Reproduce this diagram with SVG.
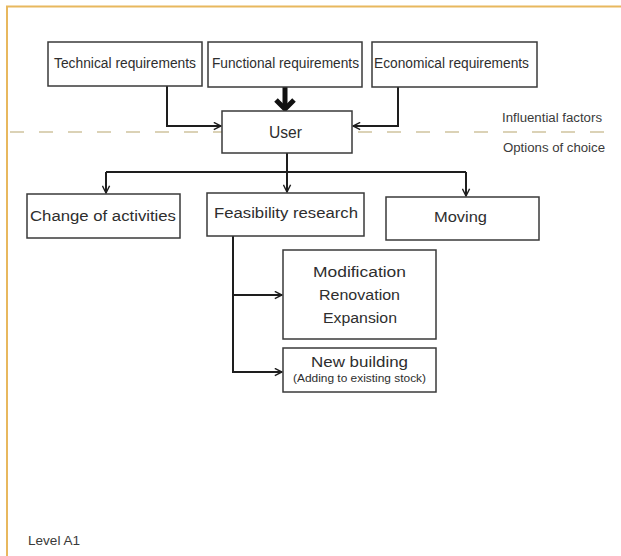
<svg xmlns="http://www.w3.org/2000/svg" width="621" height="556" viewBox="0 0 621 556">
  <defs>
    <style>
      .box { fill: #ffffff; stroke: #3a3a3a; stroke-width: 1.5; }
      .txt { font-family: "Liberation Sans", Arial, sans-serif; fill: #2e2e2e; }
      .lbl { font-size: 14px; }
      .big { font-size: 15.5px; }
      .side { font-size: 12px; fill: #3a3a3a; }
      .small { font-size: 10px; }
      .wire { fill: none; stroke: #1e1e1e; stroke-width: 2; }
    </style>
    <marker id="chev" viewBox="0 0 10 10" refX="9" refY="5" markerWidth="9" markerHeight="9" markerUnits="userSpaceOnUse" orient="auto">
      <path d="M1,1 L9,5 L1,9" fill="none" stroke="#1e1e1e" stroke-width="1.6"/>
    </marker>
  </defs>

  <rect x="0" y="0" width="621" height="556" fill="#ffffff"/>

  <!-- frame -->
  <path d="M7,556 V6.5 H621" fill="none" stroke="#e8b85e" stroke-width="2"/>

  <!-- separator between factors and choices -->
  <line x1="10" y1="132" x2="616" y2="132" stroke="#cfc39f" stroke-width="1.5" stroke-dasharray="14 15"/>

  <g id="connectors">
    <path class="wire" d="M167,86 V126 H221" marker-end="url(#chev)"/>
    <path class="wire" d="M398,87 V126 H353" marker-end="url(#chev)"/>
    <line x1="285" y1="87" x2="285" y2="108" stroke="#111" stroke-width="5"/>
    <polyline points="276,100 285,109 294,100" fill="none" stroke="#111" stroke-width="5" stroke-linejoin="miter"/>
    <path class="wire" d="M287,153 V172"/>
    <path class="wire" d="M106,172 H466"/>
    <path class="wire" d="M106,172 V193" marker-end="url(#chev)"/>
    <path class="wire" d="M287,172 V192" marker-end="url(#chev)"/>
    <path class="wire" d="M466,172 V196" marker-end="url(#chev)"/>
    <path class="wire" d="M233,236 V372 H282" marker-end="url(#chev)"/>
    <path class="wire" d="M233,295 H282" marker-end="url(#chev)"/>
  </g>

  <g id="technical">
    <rect class="box" x="48" y="42" width="154" height="44"/>
    <text class="txt lbl" x="54" y="68" textLength="142" lengthAdjust="spacingAndGlyphs">Technical requirements</text>
  </g>
  <g id="functional">
    <rect class="box" x="208" y="42" width="154" height="45"/>
    <text class="txt lbl" x="212" y="68" textLength="147" lengthAdjust="spacingAndGlyphs">Functional requirements</text>
  </g>
  <g id="economical">
    <rect class="box" x="372" y="42" width="165" height="45"/>
    <text class="txt lbl" x="374" y="68" textLength="155" lengthAdjust="spacingAndGlyphs">Economical requirements</text>
  </g>
  <g id="user">
    <rect class="box" x="222" y="111" width="130" height="42"/>
    <text class="txt" x="269" y="138" font-size="16" textLength="33" lengthAdjust="spacingAndGlyphs">User</text>
  </g>

  <text class="txt side" x="502" y="122" textLength="100" lengthAdjust="spacingAndGlyphs">Influential factors</text>
  <text class="txt side" x="503" y="152" textLength="102" lengthAdjust="spacingAndGlyphs">Options of choice</text>

  <g id="change">
    <rect class="box" x="27" y="194" width="153" height="44"/>
    <text class="txt big" x="30" y="221" textLength="146" lengthAdjust="spacingAndGlyphs">Change of activities</text>
  </g>
  <g id="feasibility">
    <rect class="box" x="207" y="193" width="157" height="43"/>
    <text class="txt big" x="214" y="218" textLength="144" lengthAdjust="spacingAndGlyphs">Feasibility research</text>
  </g>
  <g id="moving">
    <rect class="box" x="386" y="197" width="153" height="43"/>
    <text class="txt big" x="434" y="222" textLength="53" lengthAdjust="spacingAndGlyphs">Moving</text>
  </g>
  <g id="modification">
    <rect class="box" x="283" y="250" width="153" height="89"/>
    <text class="txt big" x="313" y="277" textLength="93" lengthAdjust="spacingAndGlyphs">Modification</text>
    <text class="txt big" x="319" y="300" textLength="81" lengthAdjust="spacingAndGlyphs">Renovation</text>
    <text class="txt big" x="323" y="323" textLength="74" lengthAdjust="spacingAndGlyphs">Expansion</text>
  </g>
  <g id="newbuilding">
    <rect class="box" x="283" y="348" width="153" height="44"/>
    <text class="txt big" x="311" y="367" textLength="97" lengthAdjust="spacingAndGlyphs">New building</text>
    <text class="txt small" x="293" y="382" textLength="133" lengthAdjust="spacingAndGlyphs">(Adding to existing stock)</text>
  </g>

  <text class="txt side" x="28" y="545" textLength="52" lengthAdjust="spacingAndGlyphs">Level A1</text>
</svg>
